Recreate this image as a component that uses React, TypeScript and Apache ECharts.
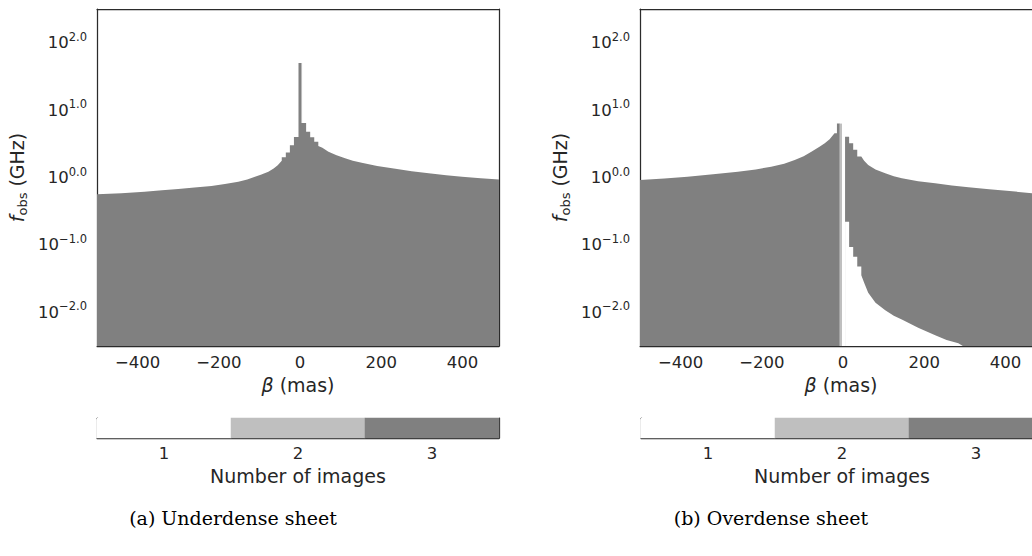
import React, { useEffect, useRef } from 'react';
import * as echarts from 'echarts';

// ---- axis ticks ----
const xTickValues = [-400, -200, 0, 200, 400];
const yTickExponents = [-2, -1, 0, 1, 2];

// ---- (a) Underdense sheet: upper boundary of the 3-image region, log10(f_obs / GHz) ----
const underBeta = [-500, -440, -383, -340, -300, -260, -218, -185, -152, -130, -111, -95, -78, -65, -55, -45, -45, -35, -35, -25, -25, -15, -15, -2.5, -2.5, 2.5, 2.5, 15, 15, 25, 25, 35, 35, 45, 45, 55, 70, 90, 111, 130, 152, 190, 235, 275, 317, 360, 399, 445, 490];
const underLogF = [-0.25, -0.232, -0.211, -0.19, -0.171, -0.15, -0.126, -0.097, -0.062, -0.028, 0.012, 0.045, 0.086, 0.135, 0.18, 0.25, 0.3, 0.3, 0.37, 0.37, 0.48, 0.48, 0.6, 0.6, 1.7, 1.7, 0.81, 0.81, 0.68, 0.68, 0.596, 0.596, 0.53, 0.53, 0.467, 0.44, 0.383, 0.33, 0.285, 0.25, 0.22, 0.17, 0.13, 0.094, 0.062, 0.035, 0.012, -0.01, -0.03];
// narrow 2-image spike at beta ~ 0
const spikeBeta = [-5, -5, 5, 5];
const spikeLogF = [-2.5, 1.7, 1.7, -2.5];

// ---- (b) Overdense sheet ----
const overLeftBeta = [-500, -440, -383, -320, -259, -215, -177, -145, -119, -97, -78, -58, -45, -33, -21, -15, -15, -8, -8];
const overLeftLogF = [-0.037, -0.014, 0.012, 0.048, 0.086, 0.12, 0.16, 0.205, 0.26, 0.315, 0.383, 0.457, 0.507, 0.566, 0.656, 0.656, 0.8, 0.8, -2.5];
const overLineBeta = [-8, -8, -2.5, -2.5];
const overLineLogF = [-2.5, 0.8, 0.8, -2.5];
const overRightBeta = [5, 5, 15, 15, 25, 25, 35, 35, 45, 52, 62, 80, 104, 125, 145, 185, 227, 268, 309, 360, 410, 466, 490];
const overRightLogF = [-2.5, 0.605, 0.605, 0.507, 0.507, 0.41, 0.41, 0.31, 0.31, 0.25, 0.185, 0.118, 0.062, 0.02, -0.012, -0.055, -0.086, -0.118, -0.146, -0.175, -0.2, -0.235, -0.25];
// lower boundary of the 3-image region (white 1-image wedge below it)
const wedgeBeta = [5, 15, 15, 25, 25, 35, 35, 45, 45, 52, 62, 80, 104, 125, 146, 185, 227, 255, 284, 295];
const wedgeLogF = [-0.655, -0.655, -1.03, -1.03, -1.175, -1.175, -1.32, -1.32, -1.45, -1.56, -1.71, -1.86, -1.97, -2.05, -2.11, -2.23, -2.34, -2.41, -2.46, -2.5];

// ---- colorbar ----
const cbCategories = ['1', '2', '3'];
const cbValues = [1, 2, 3];
const cbColors = ['#ffffff', '#bfbfbf', '#808080'];

const captions = ['(a) Underdense sheet', '(b) Overdense sheet'];

const TXT = '#262626';
const FRAME = '#2b2b2b';
const FONT = 'DejaVu Sans';
const DARK = '#808080';
const LIGHT = '#bfbfbf';

const zip = (xs: number[], ys: number[]) => xs.map((x, i) => [x, ys[i]]);
const minus = (v: number) => (v < 0 ? '\u2212' + Math.abs(v) : String(v));

function frameLine() {
  return { show: true, onZero: false, lineStyle: { color: FRAME, width: 1.25 } };
}

function mainX(gridIndex: number) {
  return {
    type: 'value', gridIndex, min: -500, max: 490, position: 'bottom',
    axisLine: frameLine(), axisTick: { show: false }, splitLine: { show: false },
    axisLabel: { customValues: xTickValues, formatter: (v: number) => minus(v), color: TXT, fontFamily: FONT, fontSize: 16.5, margin: 8 },
    name: '{i|β} (mas)', nameLocation: 'middle', nameGap: 27,
    nameTextStyle: { color: TXT, fontFamily: FONT, fontSize: 19, rich: { i: { fontStyle: 'italic', fontFamily: FONT, fontSize: 19, color: TXT } } },
  };
}
function mainY(gridIndex: number) {
  return {
    type: 'value', gridIndex, min: -2.5, max: 2.5, position: 'left',
    axisLine: frameLine(), axisTick: { show: false }, splitLine: { show: false },
    axisLabel: {
      customValues: yTickExponents, margin: 10, color: TXT,
      formatter: (e: number) => `{b|10}{s|${e < 0 ? '\u2212' : ''}${Math.abs(e).toFixed(1)}}`,
      rich: {
        b: { fontFamily: FONT, fontSize: 16.5, lineHeight: 24, color: TXT },
        s: { fontFamily: FONT, fontSize: 11.5, lineHeight: 12, verticalAlign: 'top', color: TXT },
      },
    },
    name: '{i|f}{sub|obs} (GHz)', nameLocation: 'middle', nameGap: 68,
    nameTextStyle: {
      color: TXT, fontFamily: FONT, fontSize: 19, lineHeight: 24,
      rich: {
        i: { fontStyle: 'italic', fontFamily: FONT, fontSize: 19, lineHeight: 24, color: TXT },
        sub: { fontFamily: FONT, fontSize: 13, lineHeight: 13, verticalAlign: 'bottom', color: TXT },
      },
    },
  };
}
function frameX(gridIndex: number, type = 'value') {
  const a: any = {
    type, gridIndex, position: 'top', axisLine: frameLine(), axisTick: { show: false },
    axisLabel: { show: false }, splitLine: { show: false },
  };
  if (type === 'value') { a.min = 0; a.max = 1; } else { a.data = cbCategories; }
  return a;
}
function frameY(gridIndex: number, type = 'value') {
  const a: any = {
    type, gridIndex, position: 'right', axisLine: frameLine(), axisTick: { show: false },
    axisLabel: { show: false }, splitLine: { show: false },
  };
  if (type === 'value') { a.min = 0; a.max = 1; } else { a.data = ['']; }
  return a;
}
function cbX(gridIndex: number) {
  return {
    type: 'category', gridIndex, data: cbCategories, position: 'bottom', boundaryGap: true,
    axisLine: frameLine(), axisTick: { show: false }, splitLine: { show: false },
    axisLabel: { color: TXT, fontFamily: FONT, fontSize: 16.5, margin: 7 },
    name: 'Number of images', nameLocation: 'middle', nameGap: 28,
    nameTextStyle: { color: TXT, fontFamily: FONT, fontSize: 19 },
  };
}
function cbY(gridIndex: number) {
  return {
    type: 'category', gridIndex, data: [''], position: 'left',
    axisLine: frameLine(), axisTick: { show: false }, splitLine: { show: false }, axisLabel: { show: false },
  };
}

function area(data: number[][], color: string, axisIndex: number, z: number) {
  return {
    type: 'line', xAxisIndex: axisIndex, yAxisIndex: axisIndex, data, symbol: 'none', showSymbol: false,
    lineStyle: { width: 0, opacity: 0 }, areaStyle: { color, opacity: 1, origin: 'start' },
    z, silent: true, clip: true,
  };
}

const option: any = {
  animation: false,
  backgroundColor: '#ffffff',
  grid: [
    { left: 97, top: 9, width: 402, height: 337 },
    { left: 640, top: 9, width: 402, height: 337 },
    { left: 97, top: 418, width: 402, height: 20 },
    { left: 641, top: 418, width: 402, height: 20 },
  ],
  xAxis: [mainX(0), mainX(1), frameX(0), frameX(1), cbX(2), cbX(3), frameX(2, 'category'), frameX(3, 'category')],
  yAxis: [mainY(0), mainY(1), frameY(0), frameY(1), cbY(2), cbY(3), frameY(2, 'category'), frameY(3, 'category')],
  visualMap: {
    type: 'piecewise', show: false, dimension: 2, seriesIndex: [6, 7],
    pieces: cbValues.map((v, i) => ({ value: v, color: cbColors[i] })),
  },
  series: [
    area(zip(spikeBeta, spikeLogF), LIGHT, 0, 2),
    area(zip(underBeta, underLogF), DARK, 0, 3),
    area(zip(overLeftBeta, overLeftLogF), DARK, 1, 2),
    area(zip(overLineBeta, overLineLogF), LIGHT, 1, 3),
    area(zip(overRightBeta, overRightLogF), DARK, 1, 4),
    area(zip(wedgeBeta, wedgeLogF), '#ffffff', 1, 5),
    { type: 'heatmap', xAxisIndex: 4, yAxisIndex: 4, data: cbValues.map((v, i) => [i, 0, v]), silent: true, z: 1 },
    { type: 'heatmap', xAxisIndex: 5, yAxisIndex: 5, data: cbValues.map((v, i) => [i, 0, v]), silent: true, z: 1 },
  ],
  graphic: captions.map((t, i) => ({
    type: 'text', x: i === 0 ? 233 : 771, y: 518, silent: true,
    style: { text: t, fontFamily: 'DejaVu Serif', fontSize: 19, fill: '#000', align: 'center', verticalAlign: 'middle', textAlign: 'center', textVerticalAlign: 'middle' },
  })),
};

export default function App() {
  const ref = useRef<HTMLDivElement>(null);
  useEffect(() => {
    if (!ref.current) return;
    const chart = echarts.init(ref.current, null, { renderer: 'svg' });
    chart.setOption(option);
    return () => chart.dispose();
  }, []);
  return (
    <div style={{ position: 'absolute', left: 0, top: 0, width: 1032, height: 556, overflow: 'hidden', background: '#fff' }}>
      <div ref={ref} style={{ position: 'absolute', left: 0, top: 0, width: 1060, height: 556 }} />
    </div>
  );
}
